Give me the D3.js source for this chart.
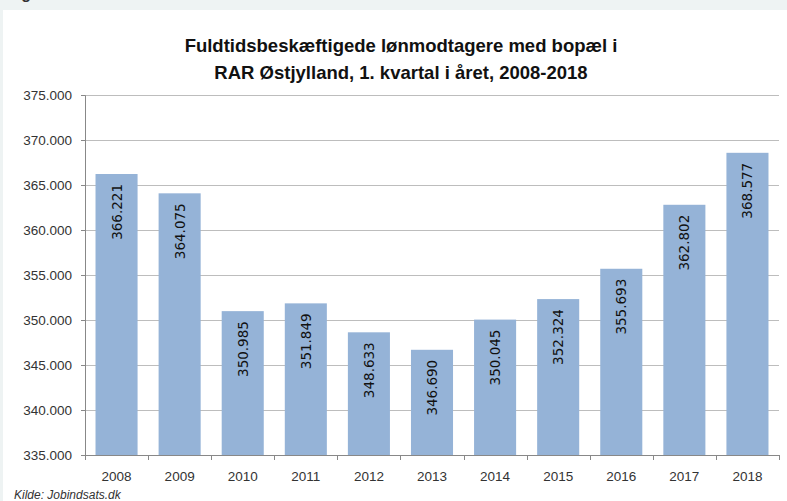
<!DOCTYPE html>
<html>
<head>
<meta charset="utf-8">
<script src="https://cdn.jsdelivr.net/npm/d3@7"></script>
<style>
  body { margin: 0; background: #eef3f3; }
  svg { display: block; }
</style>
</head>
<body>
<div id="chart"></div>
<script>
// data
const years = ["2008", "2009", "2010", "2011", "2012", "2013", "2014", "2015", "2016", "2017", "2018"];
const values = [366221, 364075, 350985, 351849, 348633, 346690, 350045, 352324, 355693, 362802, 368577];
const yTicks = [335000, 340000, 345000, 350000, 355000, 360000, 365000, 370000, 375000];
const titleLines = ["Fuldtidsbeskæftigede lønmodtagere med bopæl i", "RAR Østjylland, 1. kvartal i året, 2008-2018"];
const source = "Kilde: Jobindsats.dk";

function draw_chart() {
    const W = 787, H = 501;
    const margin = { top: 95, right: 8, bottom: 46, left: 85 };
    const width = W - margin.left - margin.right;
    const height = H - margin.top - margin.bottom;

    const dk = d3.formatLocale({ decimal: ",", thousands: ".", grouping: [3], currency: ["", " kr."] });
    const fmt = dk.format(",");

    const root = d3.select("#chart")
        .append("svg")
        .attr("width", W)
        .attr("height", H);

    // page background strip + white panel
    root.append("rect").attr("width", W).attr("height", H).attr("fill", "#eef3f3");
    root.append("rect").attr("x", 3).attr("y", 10).attr("width", W - 3).attr("height", H - 10).attr("fill", "#fff");

    // heading above the panel, mostly scrolled out of view
    root.append("text")
        .attr("x", 7).attr("y", -1)
        .style("font-family", "Liberation Sans, Arial, sans-serif")
        .style("font-size", "16px").style("font-weight", "bold")
        .attr("fill", "#333")
        .text("Fig");

    // title
    root.selectAll(".title")
        .data(titleLines)
        .enter()
        .append("text")
        .attr("class", "title")
        .attr("x", 401)
        .attr("y", (d, i) => 52 + i * 27)
        .attr("text-anchor", "middle")
        .style("font-family", "Liberation Sans, Arial, sans-serif")
        .style("font-size", "18.5px")
        .style("font-weight", "bold")
        .attr("fill", "#111")
        .text(d => d);

    const svg = root.append("g")
        .attr("transform", `translate(${margin.left},${margin.top})`);

    const x = d3.scaleBand()
        .domain(years)
        .range([0, width])
        .paddingInner(1 / 3)
        .paddingOuter(1 / 6);

    const y = d3.scaleLinear()
        .domain([335000, 375000])
        .range([height, 0]);

    // gridlines
    svg.selectAll(".grid")
        .data(yTicks.slice(1))
        .enter()
        .append("line")
        .attr("class", "grid")
        .attr("x1", 0).attr("x2", width)
        .attr("y1", d => y(d) + 0.5).attr("y2", d => y(d) + 0.5)
        .attr("stroke", "#bdbdbd");

    // bars
    svg.selectAll(".bar")
        .data(values)
        .enter()
        .append("rect")
        .attr("class", "bar")
        .attr("x", (d, i) => x(years[i]))
        .attr("y", d => y(d))
        .attr("width", x.bandwidth())
        .attr("height", d => height - y(d))
        .attr("fill", "#95b3d7");

    // value labels
    svg.selectAll(".val")
        .data(values)
        .enter()
        .append("text")
        .attr("class", "val")
        .attr("transform", (d, i) => `translate(${x(years[i]) + x.bandwidth() / 2 + 5},${y(d) + 10}) rotate(-90)`)
        .attr("text-anchor", "end")
        .style("font-family", "DejaVu Sans, Verdana, sans-serif")
        .style("font-size", "13.5px")
        .attr("fill", "#111")
        .text(d => fmt(d));

    // y axis
    const yAxis = svg.append("g")
        .call(d3.axisLeft(y).tickValues(yTicks).tickFormat(fmt).tickSize(4).tickPadding(9));
    yAxis.select(".domain").attr("stroke", "#888");
    yAxis.selectAll(".tick line").attr("stroke", "#888");
    yAxis.selectAll("text")
        .style("font-family", "Liberation Sans, Arial, sans-serif")
        .style("font-size", "13.5px")
        .attr("fill", "#333");

    // x axis
    const xAxis = svg.append("g")
        .attr("transform", `translate(0,${height})`)
        .call(d3.axisBottom(x).tickSize(0).tickPadding(16));
    xAxis.select(".domain").attr("stroke", "#888").attr("d", `M0.5,0.5H${width}`);
    xAxis.selectAll("text")
        .style("font-family", "Liberation Sans, Arial, sans-serif")
        .style("font-size", "13.5px")
        .attr("fill", "#333");

    // category boundary ticks
    svg.selectAll(".xtick")
        .data(years.concat(["end"]))
        .enter()
        .append("line")
        .attr("class", "xtick")
        .attr("x1", (d, i) => Math.round(i * x.step()) + 0.5)
        .attr("x2", (d, i) => Math.round(i * x.step()) + 0.5)
        .attr("y1", height).attr("y2", height + 5)
        .attr("stroke", "#888");

    // source
    root.append("text")
        .attr("x", 14).attr("y", 499)
        .style("font-family", "Liberation Sans, Arial, sans-serif")
        .style("font-size", "12px")
        .style("font-style", "italic")
        .attr("fill", "#333")
        .text(source);
}

draw_chart();
</script>
</body>
</html>
